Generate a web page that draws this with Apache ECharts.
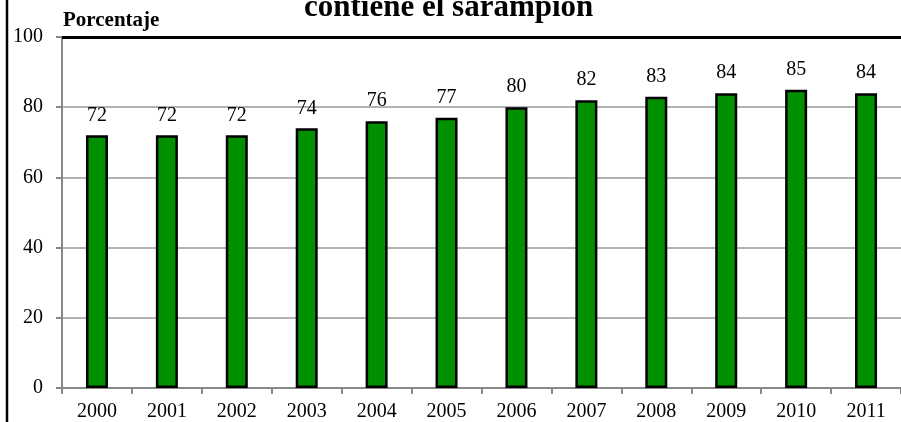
<!DOCTYPE html>
<html>
<head>
<meta charset="utf-8">
<script src="https://cdn.jsdelivr.net/npm/echarts@6/dist/echarts.min.js"></script>
<style>
html,body{margin:0;padding:0;background:#fff;}
#chart{width:901px;height:422px;}
</style>
</head>
<body>
<div id="chart"></div>
<script>
const years = ['2000','2001','2002','2003','2004','2005','2006','2007','2008','2009','2010','2011'];
const values = [72,72,72,74,76,77,80,82,83,84,85,84];
const yTicks = [0,20,40,60,80,100];
const titleText = 'contiene el sarampión';
const yAxisName = 'Porcentaje';

const serif = '"Liberation Serif","Times New Roman",serif';
const chart = echarts.init(document.getElementById('chart'));
chart.setOption({
  animation:false,
  backgroundColor:'#fff',
  grid:{left:62,right:0,top:37,bottom:34,containLabel:false},
  graphic:[
    {type:'text',left:304,top:-8,style:{text:titleText,font:'bold 31px '+serif,fill:'#000'}},
    {type:'text',left:63,top:10,style:{text:yAxisName,font:'bold 21px '+serif,fill:'#000'}},
    {type:'line',shape:{x1:7,y1:0,x2:7,y2:422},style:{stroke:'#000',lineWidth:2.5}}
  ],
  xAxis:{
    type:'category',data:years,boundaryGap:true,
    axisLine:{lineStyle:{color:'#888',width:2}},
    axisTick:{show:true,length:6,inside:false,lineStyle:{color:'#888',width:2}},
    axisLabel:{color:'#000',fontFamily:serif,fontSize:20,margin:14}
  },
  yAxis:{
    type:'value',min:yTicks[0],max:yTicks[yTicks.length-1],interval:20,
    axisLine:{show:true,lineStyle:{color:'#888',width:2}},
    axisTick:{show:true,length:6,lineStyle:{color:'#888',width:2}},
    axisLabel:{color:'#000',fontFamily:serif,fontSize:20,margin:19},
    splitLine:{show:true,lineStyle:{color:'#999',width:1.5}}
  },
  series:[{
    type:'bar',data:values,barWidth:22,
    itemStyle:{color:'#009000',borderColor:'#000',borderWidth:2.5},
    label:{show:true,position:'top',distance:10,color:'#000',fontFamily:serif,fontSize:20},
    markLine:{silent:true,symbol:'none',label:{show:false},
      lineStyle:{color:'#000',width:3,type:'solid'},data:[{yAxis:100}]}
  }]
});
</script>
</body>
</html>
